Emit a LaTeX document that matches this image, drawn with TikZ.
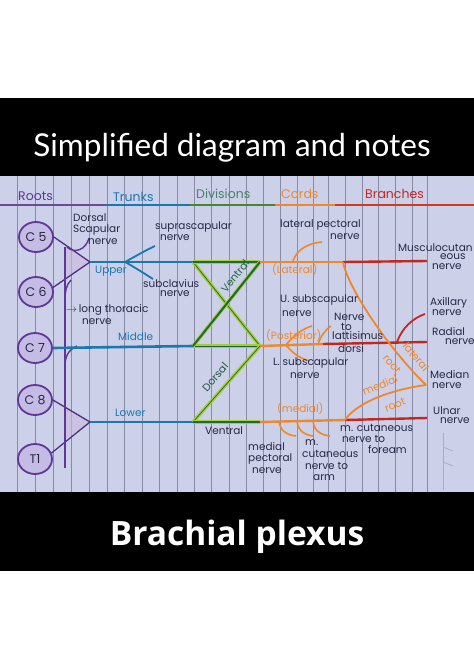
\documentclass[tikz,border=0pt]{standalone}
\usepackage{fontspec}
\setmainfont{Poppins}
\newfontfamily\titlefont{Lato}
\newfontfamily\capfont{Open Sans}
\newfontfamily\hand{Poppins}
\usetikzlibrary{shapes.geometric}
\definecolor{paper}{RGB}{204,208,233}
\definecolor{ruling}{RGB}{135,139,165}
\definecolor{purp}{RGB}{95,55,150}
\definecolor{purpfill}{RGB}{196,188,228}
\definecolor{tblue}{RGB}{25,120,175}
\definecolor{vgreen}{RGB}{30,105,55}
\definecolor{ygreen}{RGB}{165,205,55}
\definecolor{dgtext}{RGB}{70,130,110}
\definecolor{cord}{RGB}{240,135,40}
\definecolor{brred}{RGB}{195,40,30}
\definecolor{ink}{RGB}{40,40,70}
\begin{document}
\begin{tikzpicture}[x=1pt,y=-1pt,
  hand/.style={font=\hand\fontsize{10.5}{11}\selectfont, text=ink, inner sep=0pt, anchor=west},
  head/.style={font=\hand\fontsize{12.5}{13}\selectfont, inner sep=0pt, anchor=west},
  root/.style={ellipse, draw=purp, line width=1.8pt, fill=purpfill, minimum width=34pt, minimum height=30pt, inner sep=0pt, font=\hand\fontsize{12.5}{13}\selectfont, text=ink},
  rootline/.style={draw=purp!85!black, line width=1.3pt},
  ltn/.style={draw=purp, line width=2.2pt},
  trunk/.style={draw=tblue, line width=2.6pt},
  twig/.style={draw=tblue, line width=1.8pt},
  ventral/.style={draw=vgreen, line width=2pt, preaction={draw=ygreen, line width=3.8pt}},
  dorsal/.style={draw=vgreen, line width=0.7pt, preaction={draw=ygreen, line width=3.6pt}},
  cordline/.style={draw=cord, line width=2.4pt},
  cordtwig/.style={draw=cord, line width=1.6pt},
  branch/.style={draw=brred, line width=2.4pt},
  ruleline/.style={draw=ruling, line width=0.6pt}
]
\useasboundingbox (0,0) rectangle (474,670);
\fill[white] (0,0) rectangle (474,670);
\fill[black] (0,98) rectangle (474,176);
\fill[paper] (0,176) rectangle (474,492);
\fill[black] (0,492) rectangle (474,571);
\node[font=\titlefont\fontsize{31.5}{34}\selectfont, text=white, anchor=base, inner sep=0pt] (title) at (232,156) {Simplified diagram and notes};
\node[font=\capfont\bfseries\fontsize{33.5}{36}\selectfont, text=white, anchor=base, inner sep=0pt] (bottitle) at (237,545) {Brachial plexus};
% ruling
\foreach \x in {17,35,53,71,89,107,124,142,159,177,194,211,229,246,263,280,297,313,328,345,362,378,395,412,427}
  \draw[ruleline] (\x,176) -- (\x,492);
% header line
\draw[purp!70!gray, line width=1.2pt] (0,205) -- (105,205);
\draw[tblue, line width=1.2pt] (105,205) -- (190,205);
\draw[vgreen!70!ygreen, line width=1.2pt] (190,205) -- (275,205);
\draw[cord, line width=1.2pt] (275,205) -- (335,205);
\draw[brred!80!cord, line width=1.2pt] (335,205) -- (474,205);
% headers
\node[head, text=purp] (hroots) at (18,196) {Roots};
\node[head, text=tblue] (htrunks) at (113,197) {Trunks};
\node[head, text=dgtext] (hdiv) at (196,194) {Divisions};
\node[head, text=cord] (hcords) at (281,194) {Cords};
\node[head, text=brred] (hbr) at (365,194) {Branches};
% coordinates
\coordinate (u0) at (90,262);
\coordinate (u1) at (193,262);
\coordinate (m1) at (193,346);
\coordinate (l0) at (90,422);
\coordinate (l1) at (193,422);
\coordinate (lat) at (260,262);
\coordinate (pos) at (260,346);
\coordinate (med) at (260,422);
\coordinate (latb) at (343,262);
\coordinate (late) at (427,261);
\coordinate (posb) at (323,344);
\coordinate (pose) at (427,342);
\coordinate (medb) at (345,420);
\coordinate (mede) at (427,418);
\coordinate (mdn) at (426,385);
\coordinate (ltTop) at (65,247);
\coordinate (ltBot) at (65,468);
% shading triangles
\fill[purp!35, opacity=0.6] (65,245) -- (u0) -- (65,279) -- cycle;
\fill[purp!35, opacity=0.6] (65,408) -- (l0) -- (65,439) -- cycle;
% roots
\node[root] (c5) at (36,237) {C 5};
\node[root] (c6) at (36,292) {C 6};
\node[root] (c7) at (35,348) {C 7};
\node[root] (c8) at (35,400) {C 8};
\node[root] (t1) at (35,459) {T1};
\draw[rootline] (c5.east) -- (u0);
\draw[rootline] (c6.15) -- (u0);
\draw[rootline] (c8.east) -- (l0);
\draw[rootline] (t1.20) -- (l0);
% long thoracic
\draw[ltn] (ltTop) -- (ltBot);
\coordinate (dsA) at (67,247);
\coordinate (dsB) at (89,238);
\draw[ltn, line width=1.4pt] (dsA) .. controls (74,254) and (86,250) .. (dsB);
\coordinate (c6j) at (71,280);
\draw[ltn, line width=1.4pt] (c6j) .. controls (66,285) and (65,292) .. (65,300);
\coordinate (c7j) at (77,346);
\draw[ltn, line width=1.4pt] (c7j) .. controls (68,350) and (65,357) .. (65,366);
% trunks
\draw[trunk] (u0) -- (u1);
\draw[trunk] (c7.east) -- (m1);
\draw[trunk] (l0) -- (l1);
\coordinate (sp) at (125,262);
\coordinate (spA) at (155,246);
\coordinate (spB) at (153,279);
\draw[twig] (sp) .. controls (136,256) and (146,250) .. (spA);
\draw[twig] (sp) .. controls (136,268) and (145,274) .. (spB);
% divisions
\draw[dorsal] (u1) -- (pos);
\draw[dorsal] (m1) -- (pos);
\draw[dorsal] (l1) -- (pos);
\draw[ventral] (u1) -- (lat);
\draw[ventral] (m1) -- (lat);
\draw[ventral] (l1) -- (med);
% cords
\draw[cordline] (lat) -- (latb);
\draw[cordline] (pos) -- (posb);
\draw[cordline] (med) -- (medb);
\draw[branch] (latb) -- (late);
\draw[branch] (posb) -- (pose);
\draw[branch] (medb) -- (mede);
% cord twigs
\coordinate (lpA) at (293,261);
\coordinate (lpB) at (322,242);
\draw[cordtwig] (lpA) .. controls (297,249) and (309,243) .. (lpB);
\coordinate (usA) at (286,345);
\coordinate (usB) at (312,326);
\coordinate (lsB) at (310,361);
\draw[cordtwig] (usA) .. controls (294,335) and (302,329) .. (usB);
\draw[cordtwig] (usA) .. controls (294,355) and (302,359) .. (lsB);
\coordinate (tdA) at (318,344);
\coordinate (tdB) at (331,326);
\draw[cordtwig] (tdA) .. controls (321,336) and (325,330) .. (tdB);
\coordinate (ax0) at (397,342);
\coordinate (ax1) at (425,314);
\draw[draw=brred, line width=1.8pt] (ax0) .. controls (402,328) and (413,318) .. (ax1);
\draw[cordtwig, line width=1.8pt] (latb) .. controls (348,288) and (388,348) .. (mdn);
\draw[cordtwig, line width=1.8pt] (medb) .. controls (358,401) and (395,389) .. (mdn);
\coordinate (a1) at (279,421);
\coordinate (a1e) at (296,436);
\coordinate (a2) at (297,421);
\coordinate (a2e) at (313,436);
\coordinate (a3) at (313,421);
\coordinate (a3e) at (330,436);
\draw[cordtwig] (a1) .. controls (280,431) and (287,435) .. (a1e);
\draw[cordtwig] (a2) .. controls (298,431) and (305,435) .. (a2e);
\draw[cordtwig] (a3) .. controls (314,431) and (321,435) .. (a3e);
% margin marks
\coordinate (mk0) at (443,433);
\coordinate (mk1) at (443,490);
\draw[ruling!70!white, line width=0.8pt] (mk0) -- (mk1);
\draw[ruling!70!white, line width=0.8pt] (443,447) -- (453,451);
\draw[ruling!70!white, line width=0.8pt] (443,462) -- (453,466);
% labels left
\node[hand] (ds1) at (73,218) {Dorsal};
\node[hand] (ds2) at (73,230) {Scapular};
\node[hand] (ds3) at (88,242) {nerve};
\node[hand] (ss1) at (155,227) {suprascapular};
\node[hand] (ss2) at (160,238) {nerve};
\node[hand, text=tblue] (upper) at (95,271) {Upper};
\node[hand] (sc1) at (143,284) {subclavius};
\node[hand] (sc2) at (160,294) {nerve};
\node[hand] (lt1) at (66,310) {$\rightarrow$\,long thoracic};
\node[hand] (lt2) at (82,322) {nerve};
\node[hand, text=tblue] (middle) at (118,337) {Middle};
\node[hand, text=tblue] (lower) at (115,413) {Lower};
\node[hand, anchor=center, rotate=51, text=vgreen] (vent1) at (235,276) {Ventral};
\node[hand, anchor=center, rotate=49, text=vgreen!70!ink] (dors) at (215,377) {Dorsal};
\node[hand] (vent2) at (205,431) {Ventral};
% cords labels
\node[hand] (lp1) at (280,225) {lateral pectoral};
\node[hand] (lp2) at (330,237) {nerve};
\node[hand, text=cord] (latl) at (272,270) {(Lateral)};
\node[hand] (us1) at (280,300) {U. subscapular};
\node[hand] (us2) at (282,314) {nerve};
\node[hand] (nl1) at (334,317) {Nerve};
\node[hand] (nl2) at (341,327) {to};
\node[hand] (nl3) at (332,336) {lattisimus};
\node[hand] (nl4) at (338,349) {dorsi};
\node[hand, text=cord] (posl) at (266,336) {(Posterior)};
\node[hand] (ls1) at (273,363) {L. subscapular};
\node[hand] (ls2) at (290,376) {nerve};
\node[hand, text=cord] (medl) at (277,409) {(medial)};
\node[hand] (mp1) at (248,447) {medial};
\node[hand] (mp2) at (248,459) {pectoral};
\node[hand] (mp3) at (252,471) {nerve};
\node[hand] (ca1) at (305,443) {m.};
\node[hand] (ca2) at (302,454) {cutaneous};
\node[hand] (ca3) at (305,466) {nerve to};
\node[hand] (ca4) at (313,478) {arm};
\node[hand] (cf1) at (340,428) {m. cutaneous};
\node[hand] (cf2) at (342,439) {nerve to};
\node[hand] (cf3) at (368,450) {foream};
\node[hand, anchor=center, rotate=-50, text=cord] (lr1) at (416,357) {lateral};
\node[hand, anchor=center, rotate=-50, text=cord] (lr2) at (392,364) {root};
\node[hand, anchor=center, rotate=22, text=cord] (mr1) at (380,385) {medial};
\node[hand, anchor=center, rotate=22, text=cord] (mr2) at (395,405) {root};
% branches labels
\node[hand] (mc1) at (398,248) {Musculocutan};
\node[hand] (mc2) at (440,257) {eous};
\node[hand] (mc3) at (432,267) {nerve};
\node[hand] (ax1l) at (430,303) {Axillary};
\node[hand] (ax2l) at (432,313) {nerve};
\node[hand] (ra1) at (432,332) {Radial};
\node[hand] (ra2) at (445,342) {nerve};
\node[hand] (md1) at (430,375) {Median};
\node[hand] (md2) at (432,386) {nerve};
\node[hand] (ul1) at (433,411) {Ulnar};
\node[hand] (ul2) at (440,421) {nerve};
\end{tikzpicture}
\end{document}
